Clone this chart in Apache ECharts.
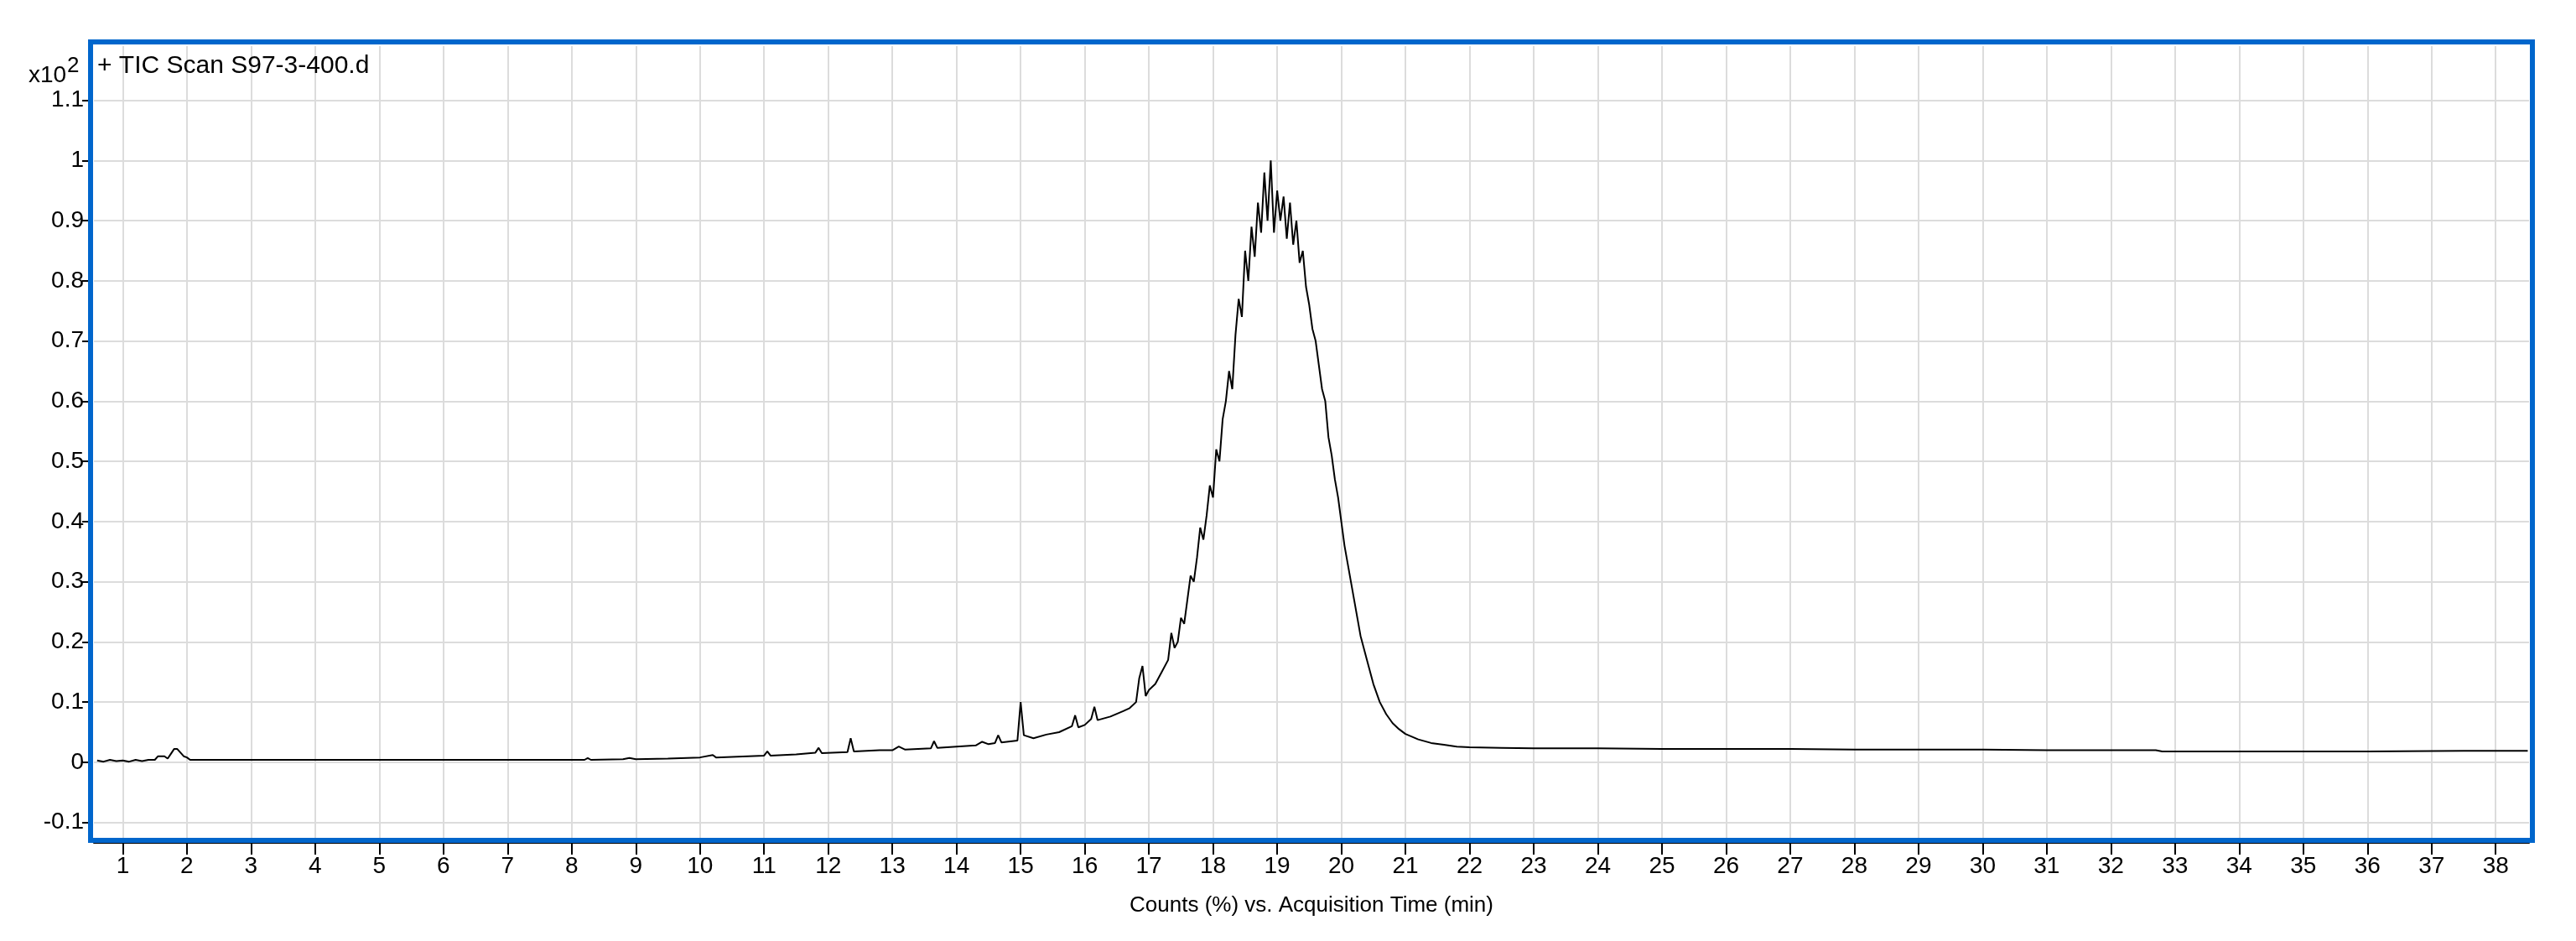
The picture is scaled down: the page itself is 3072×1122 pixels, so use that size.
<!DOCTYPE html>
<html>
<head>
<meta charset="utf-8">
<script src="https://cdn.jsdelivr.net/npm/echarts@6/dist/echarts.min.js"></script>
<style>html,body{margin:0;padding:0;background:#fff}#chart{width:3072px;height:1122px}</style>
</head>
<body>
<div id="chart"></div>
<script>
// retention time (min) and counts (x10^2 %)
const timeMin = [0.6,0.7,0.8,0.9,1.0,1.1,1.2,1.3,1.4,1.5,1.55,1.65,1.7,1.75,1.8,1.85,1.9,1.95,2.0,2.05,3,5,8.2,8.25,8.3,8.8,8.9,9.0,9.5,10.0,10.2,10.25,10.5,11.0,11.05,11.1,11.5,11.8,11.85,11.9,12.3,12.35,12.4,12.8,13.0,13.1,13.2,13.6,13.65,13.7,14.0,14.3,14.4,14.5,14.6,14.65,14.7,14.95,15.0,15.05,15.2,15.4,15.6,15.8,15.85,15.9,16.0,16.1,16.15,16.2,16.4,16.6,16.7,16.8,16.85,16.9,16.95,17.0,17.1,17.2,17.3,17.35,17.4,17.45,17.5,17.55,17.6,17.65,17.7,17.75,17.8,17.85,17.9,17.95,18.0,18.05,18.1,18.15,18.2,18.25,18.3,18.35,18.4,18.45,18.5,18.55,18.6,18.65,18.7,18.75,18.8,18.85,18.9,18.95,19.0,19.05,19.1,19.15,19.2,19.25,19.3,19.35,19.4,19.45,19.5,19.55,19.6,19.65,19.7,19.75,19.8,19.85,19.9,19.95,20.0,20.05,20.1,20.15,20.2,20.25,20.3,20.4,20.5,20.6,20.7,20.8,20.9,21.0,21.2,21.4,21.6,21.8,22.0,22.5,23,24,25,26,27,28,29,30,31,32,32.7,32.8,34,36,37.5,38.5];
const counts = [.003,.001,.004,.002,.003,.001,.004,.002,.004,.004,.01,.01,.006,.014,.022,.022,.016,.01,.008,.004,.004,.004,.004,.007,.004,.005,.007,.005,.006,.008,.012,.008,.009,.011,.018,.011,.013,.016,.024,.015,.017,.04,.018,.02,.02,.026,.021,.023,.035,.024,.026,.028,.034,.03,.032,.045,.033,.036,.1,.045,.04,.046,.05,.06,.078,.058,.062,.072,.092,.07,.076,.085,.09,.1,.14,.16,.11,.12,.13,.15,.17,.215,.19,.2,.24,.23,.27,.31,.3,.34,.39,.37,.41,.46,.44,.52,.5,.57,.6,.65,.62,.71,.77,.74,.85,.8,.89,.84,.93,.88,.98,.9,1.0,.88,.95,.9,.94,.87,.93,.86,.9,.83,.85,.79,.76,.72,.7,.66,.62,.6,.54,.51,.47,.44,.4,.36,.33,.3,.27,.24,.21,.17,.13,.1,.08,.065,.055,.047,.038,.032,.029,.026,.025,.024,.023,.023,.022,.022,.022,.021,.021,.021,.02,.02,.02,.018,.018,.018,.019,.019];
const xTicks = Array.from({length: 38}, (_, i) => i + 1);
const yTicks = [-0.1,0,0.1,0.2,0.3,0.4,0.5,0.6,0.7,0.8,0.9,1,1.1];

const FONT = "'Liberation Sans Narrow', 'Liberation Sans', Arial, sans-serif";
const chart = echarts.init(document.getElementById('chart'));
chart.setOption({
  animation: false,
  grid: { left: 112, right: 56, top: 55, bottom: 122 },
  xAxis: {
    type: 'value', min: 0.55, max: 38.52,
    offset: 5,
    name: 'Counts (%) vs. Acquisition Time (min)',
    nameLocation: 'middle', nameGap: 62,
    nameTextStyle: { fontFamily: FONT, fontSize: 26, color: '#000' },
    axisLine: { show: true, onZero: false, lineStyle: { color: '#000', width: 2 } },
    axisTick: { show: true, customValues: xTicks, length: 14, lineStyle: { color: '#000', width: 2 } },
    axisLabel: { customValues: xTicks, fontFamily: FONT, fontSize: 28, color: '#000', margin: 14 },
    splitLine: { show: true, lineStyle: { color: '#dcdcdc', width: 2 } }
  },
  yAxis: {
    type: 'value', min: -0.127, max: 1.19,
    offset: 6,
    axisLine: { show: true, onZero: false, lineStyle: { color: '#000', width: 2 } },
    axisTick: { show: true, customValues: yTicks, length: 8, lineStyle: { color: '#000', width: 2 } },
    axisLabel: { customValues: yTicks, fontFamily: FONT, fontSize: 28, color: '#000', margin: 6 },
    splitLine: { show: true, lineStyle: { color: '#dcdcdc', width: 2 } }
  },
  graphic: [
    { type: 'rect', shape: { x: 108, y: 50, width: 2912, height: 952 }, style: { fill: 'none', stroke: '#0066cc', lineWidth: 6 }, z: 100 },
    { type: 'text', left: 116, top: 64, style: { text: '+ TIC Scan S97-3-400.d', font: '30px ' + FONT, fill: '#000' }, z: 100 },
    { type: 'text', left: 34, top: 76, style: { text: 'x10', font: '28px ' + FONT, fill: '#000' } },
    { type: 'text', left: 80, top: 66, style: { text: '2', font: '26px ' + FONT, fill: '#000' } }
  ],
  series: [{
    type: 'line', showSymbol: false,
    data: timeMin.map((t, i) => [t, counts[i]]),
    lineStyle: { color: '#000', width: 2 }
  }]
});
</script>
</body>
</html>
